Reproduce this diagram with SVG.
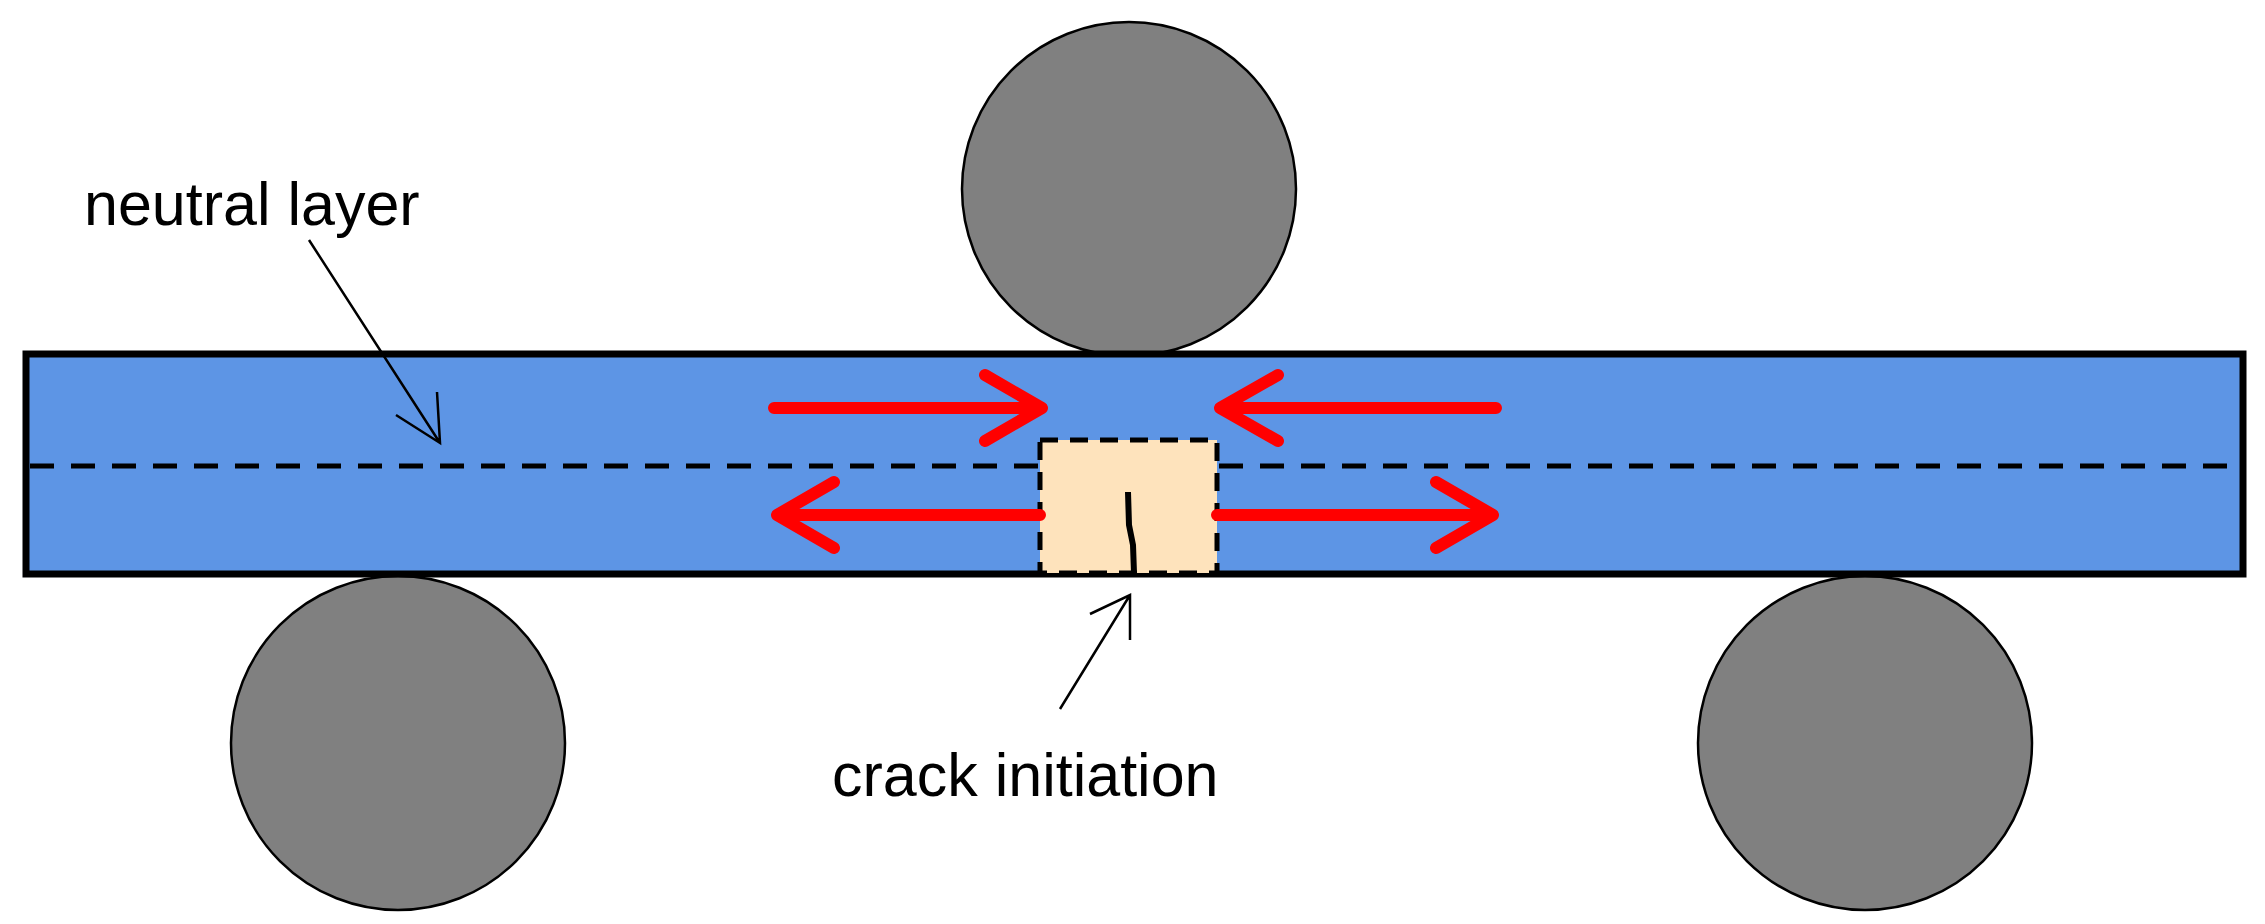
<svg xmlns="http://www.w3.org/2000/svg" width="2265" height="924" viewBox="0 0 2265 924">
<style>
.roller{fill:#808080;stroke:#000;stroke-width:2.5}
.red{stroke:#ff0000;stroke-width:12;fill:none;stroke-linecap:round;stroke-linejoin:round}
.lead{stroke:#000;stroke-width:2.5;fill:none}
text{font-family:"Liberation Sans",Arial,sans-serif;font-size:61px;fill:#000}
</style>
<rect width="2265" height="924" fill="#fff"/>
<g id="roller-top"><circle class="roller" cx="1129" cy="189" r="167"/></g>
<g id="roller-left"><circle class="roller" cx="398" cy="743" r="167"/></g>
<g id="roller-right"><circle class="roller" cx="1865" cy="743" r="167"/></g>
<g id="beam">
<rect x="26" y="354" width="2217" height="220" fill="#5d95e5" stroke="#000" stroke-width="7"/>
<line x1="30" y1="466" x2="2240" y2="466" stroke="#000" stroke-width="5" stroke-dasharray="24,17"/>
</g>
<g id="crack-zone">
<rect x="1040" y="440" width="177" height="133" fill="#fee3bc" stroke="#000" stroke-width="5" stroke-dasharray="18,12"/>
<path d="M1128,492 L1129,525 L1133,545 L1134,573" stroke="#000" stroke-width="6" fill="none"/>
</g>
<g id="connectors">
<path class="red" d="M774,408 H1040 M985,375 L1042,408 L985,441"/>
<path class="red" d="M1496,408 H1222 M1278,375 L1220,408 L1278,441"/>
<path class="red" d="M1040,515 H780 M834,482 L777,515 L834,548"/>
<path class="red" d="M1217,515 H1490 M1436,482 L1493,515 L1436,548"/>
<path class="lead" d="M309,240 L440,443 M396,415 L440,443 L437,392"/>
<path class="lead" d="M1060,709 L1130,595 M1090,614 L1130,595 L1130,640"/>
</g>
<text x="84" y="225">neutral layer</text>
<text x="832" y="796">crack initiation</text>
</svg>
